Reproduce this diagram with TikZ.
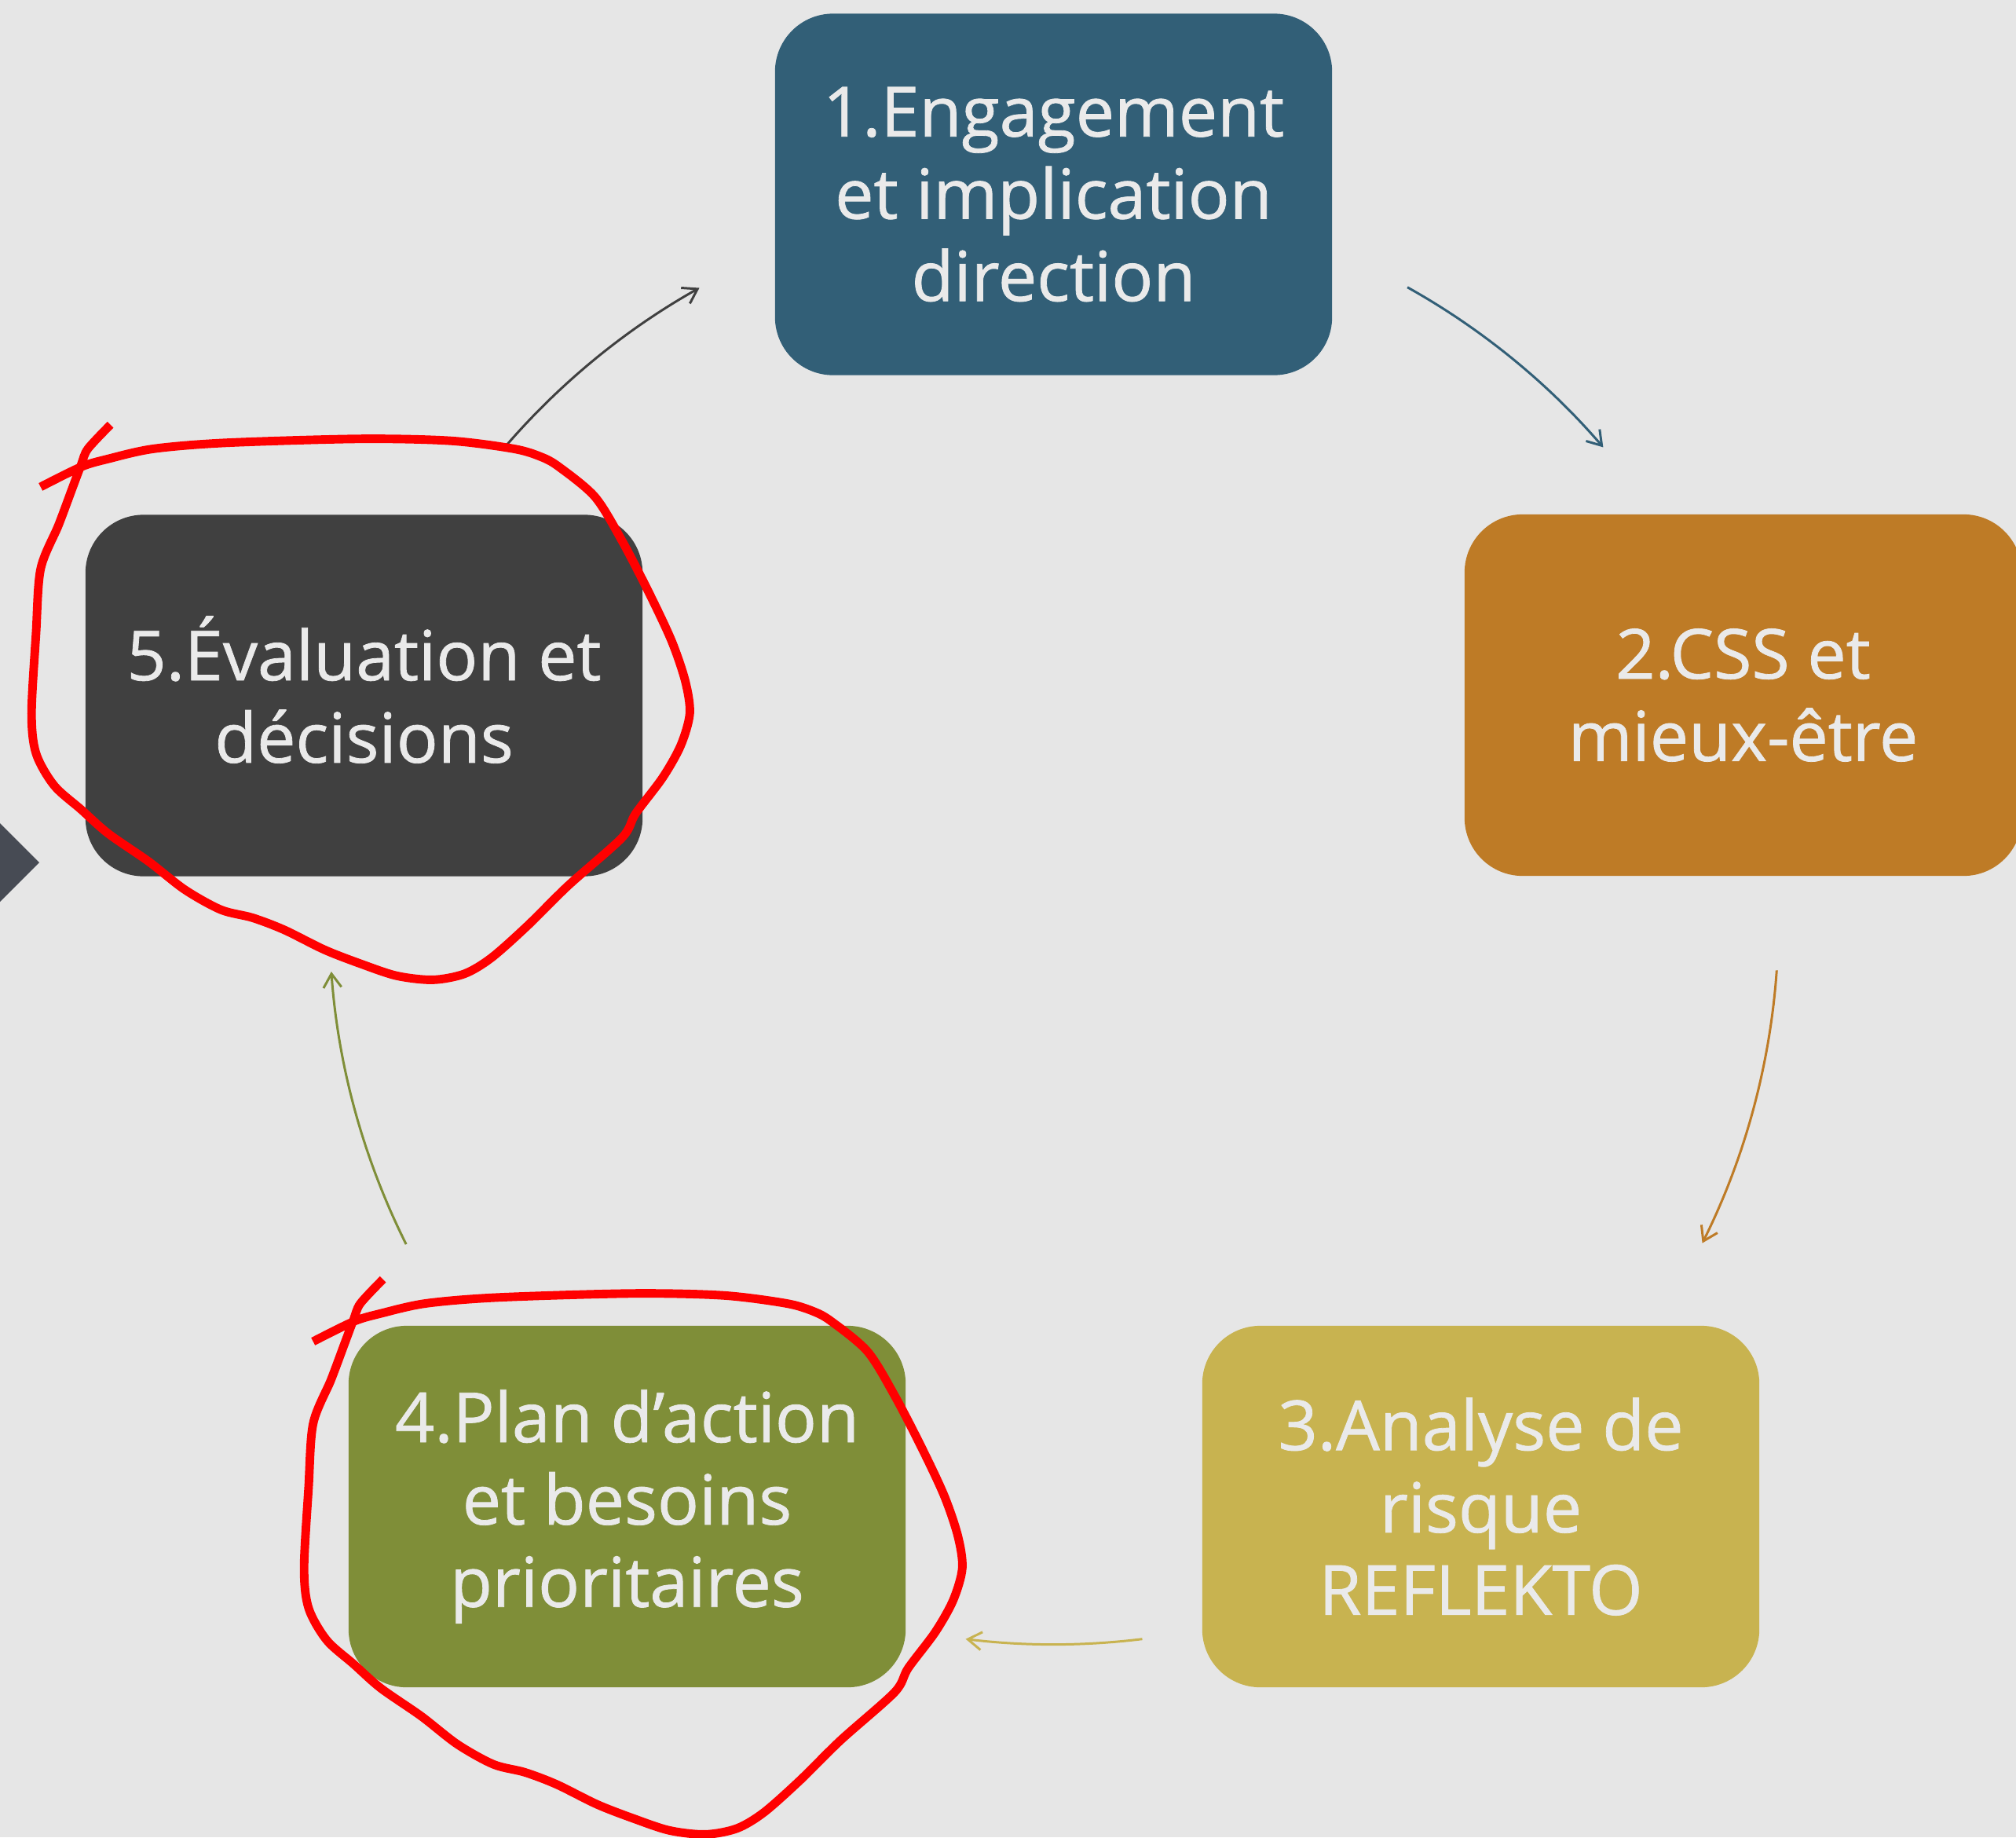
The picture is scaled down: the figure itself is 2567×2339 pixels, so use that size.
\documentclass[tikz,border=0pt]{standalone}
\usepackage{fontspec}
\setmainfont{Open Sans}
\newfontfamily\boxfont{Open Sans}[FakeBold=0.9]
\usetikzlibrary{arrows.meta,calc}
\definecolor{bgc}{HTML}{E6E6E6}
\definecolor{cone}{HTML}{325F77}
\definecolor{ctwo}{HTML}{BE7B26}
\definecolor{cthree}{HTML}{C8B350}
\definecolor{cfour}{HTML}{7F8E38}
\definecolor{cfive}{HTML}{404040}
\definecolor{cdiam}{HTML}{474B54}
\definecolor{ctext}{HTML}{EAEAEA}
\tikzset{
  stepbox/.style={rounded corners=0.74cm, minimum width=7.09cm, minimum height=4.6cm,
    inner sep=0pt, align=center, text=ctext,
    font={\boxfont\fontsize{25pt}{29.8pt}\selectfont}},
  cyc/.style={line width=0.85pt, -{Straight Barb[length=5pt,width=6.5pt]}},
  scribble/.style={draw=red, line width=3.1pt, line join=round, line cap=butt}
}
\begin{document}
\begin{tikzpicture}[x=0.01cm,y=-0.01cm]
\fill[bgc] (0,0) rectangle (2567,2339);
\useasboundingbox (0,0) rectangle (2567,2339);

% left partial shape
\fill[cdiam] (-20,1028) -- (50,1098) -- (-20,1168) -- cycle;

% boxes
\node[stepbox, fill=cone]   (n1) at (1341.5,247.5) {1.Engagement\\et implication\\direction};
\node[stepbox, fill=ctwo]   (n2) at (2219.5,885)   {2.CSS et\\mieux-être};
\node[stepbox, fill=cthree] (n3) at (1885.5,1918)  {3.Analyse de\\risque\\REFLEKTO};
\node[stepbox, fill=cfour]  (n4) at (798.5,1918)   {4.Plan d’action\\et besoins\\prioritaires};
\node[stepbox, fill=cfive]  (n5) at (463.5,885.5)  {5.\smash{É}valuation et\\décisions};

% cycle arrows (arcs on a common circle)
\coordinate (ctr) at (1342,1171);
\coordinate (s51) at ($(ctr)+(139.2:9.22cm)$);
\coordinate (s12) at ($(ctr)+(60.8:9.22cm)$);
\coordinate (s23) at ($(ctr)+(-4.0:9.22cm)$);
\coordinate (s34) at ($(ctr)+(-83.0:9.22cm)$);
\coordinate (s45) at ($(ctr)+(-153.4:9.22cm)$);
\draw[cyc, draw=cfive]  (s51) arc[start angle=139.2, end angle=119.3, radius=9.22cm];
\draw[cyc, draw=cone]   (s12) arc[start angle=60.8, end angle=40.7, radius=9.22cm];
\draw[cyc, draw=ctwo]   (s23) arc[start angle=-4.0, end angle=-26.5, radius=9.22cm];
\draw[cyc, draw=cthree] (s34) arc[start angle=-83.0, end angle=-97.0, radius=9.22cm];
\draw[cyc, draw=cfour]  (s45) arc[start angle=-153.4, end angle=-175.9, radius=9.22cm];

% hand-drawn red loops
\def\loopcoords{(140.6,540.8) (111.9,571.4) (103.3,591.8) (91.8,622.4) (74.6,668.4)
 (51.7,724.5) (45.9,806.1) (40.2,908.2) (45.9,959.2) (68.9,1000) (103.3,1030.6)
 (137.8,1061.2) (189.4,1096.9) (235.4,1132.7) (281.3,1158.2) (321.5,1168.4)
 (361.7,1183.7) (413.3,1209.2) (459.2,1227) (505.2,1242.3) (551.1,1247.4)
 (591.3,1239.8) (625.7,1219.4) (671.6,1178.6) (723.3,1127.6) (792.2,1066.3)
 (809.4,1035.7) (843.9,989.8) (866.8,949) (878.3,908.2) (872.6,867.3)
 (855.3,816.3) (826.6,755.1) (792.2,688.8) (757.7,632.7) (711.8,594.4)
 (688.9,581.6) (654.4,571.4) (574,561.2) (459.2,558.7) (287,563.8)
 (195.2,571.4) (137.8,584.2) (103.3,594.4) (51.7,619.9)}
\draw[scribble] plot[smooth, tension=0.5] coordinates {\loopcoords};
\begin{scope}[shift={(347,1088)}]
\draw[scribble] plot[smooth, tension=0.5] coordinates {\loopcoords};
\end{scope}
\end{tikzpicture}
\end{document}
